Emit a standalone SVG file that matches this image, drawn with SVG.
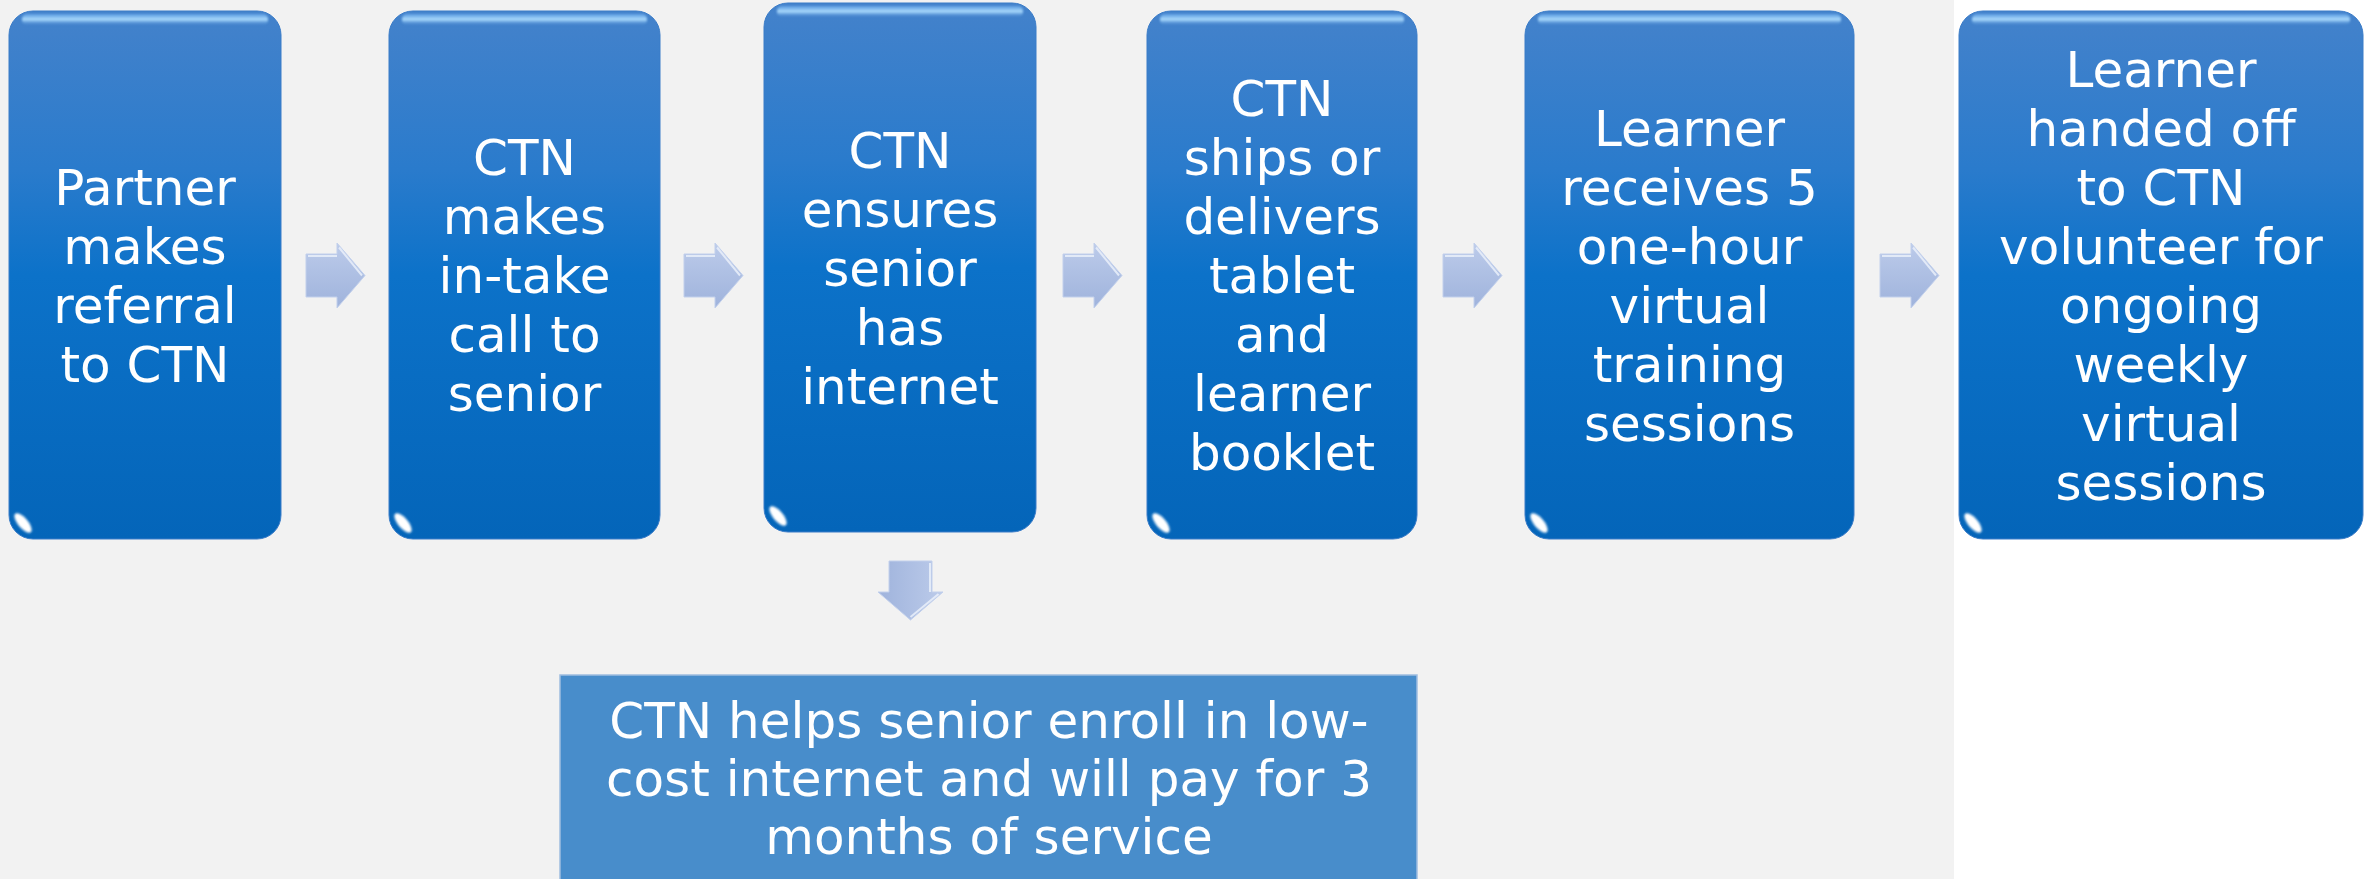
<svg xmlns="http://www.w3.org/2000/svg" xmlns:xlink="http://www.w3.org/1999/xlink" width="2367" height="879" viewBox="0 0 2367 879">
  <defs>
    <style>
      .label { font-family: "DejaVu Sans", "Noto Sans", sans-serif; font-size: 50px; fill: #ffffff; text-anchor: middle; }
      .body { fill: url(#bodyFill); stroke: #3a7cc8; stroke-width: 1; }
      .rim { fill: url(#rimFill); filter: url(#soft); }
      .edge-r { stroke: #c6f0ff; stroke-width: 2.5; fill: none; filter: url(#soft); }
      .edge-l { stroke: #5aa6ee; stroke-opacity: 0.55; stroke-width: 6; fill: none; filter: url(#soft2); }
      .spot { fill: #ffffff; filter: url(#soft3); }
      .arrow { fill: url(#arrowFill); stroke: #c2d0ec; stroke-width: 1; }
      .arrow-hi { fill: none; stroke: #eef3fb; stroke-opacity: 0.8; stroke-width: 2; }
    </style>
    <linearGradient id="bodyFill" x1="0" y1="0" x2="0" y2="1">
      <stop offset="0" stop-color="#4482cb"/>
      <stop offset="0.3" stop-color="#2a7bcc"/>
      <stop offset="0.5" stop-color="#0c72c9"/>
      <stop offset="1" stop-color="#0465b9"/>
    </linearGradient>
    <linearGradient id="rimFill" x1="0" y1="0" x2="0" y2="1">
      <stop offset="0" stop-color="#6fb2f2" stop-opacity="0.6"/>
      <stop offset="0.5" stop-color="#b2e0ff" stop-opacity="0.95"/>
      <stop offset="1" stop-color="#5d9ee0" stop-opacity="0"/>
    </linearGradient>
    <linearGradient id="arrowFill" x1="0" y1="0" x2="0" y2="1">
      <stop offset="0" stop-color="#bccbea"/>
      <stop offset="1" stop-color="#9fb3dc"/>
    </linearGradient>
    <filter id="soft" x="-10%" y="-10%" width="120%" height="120%">
      <feGaussianBlur stdDeviation="0.8"/>
    </filter>
    <filter id="soft2" x="-50%" y="-50%" width="200%" height="200%">
      <feGaussianBlur stdDeviation="2"/>
    </filter>
    <filter id="soft3" x="-50%" y="-50%" width="200%" height="200%">
      <feGaussianBlur stdDeviation="1.3"/>
    </filter>
    <!-- block arrow pointing right, origin at the tail centre -->
    <path id="blockArrow" d="M0,-21.5 H31 V-32.5 L59,0 L31,32.5 V21.5 H0 Z"/>
  </defs>

  <!-- canvas -->
  <rect x="0" y="0" width="2367" height="879" fill="#ffffff"/>
  <rect x="0" y="0" width="1954" height="879" fill="#f2f2f2"/>

  <!-- flow connectors -->
  <g id="connectors">
    <g transform="translate(306,275.5)">
      <use href="#blockArrow" class="arrow"/>
      <path class="arrow-hi" d="M2,-19.5 H31 M33,-28 L56,0"/>
    </g>
    <g transform="translate(684,275.5)">
      <use href="#blockArrow" class="arrow"/>
      <path class="arrow-hi" d="M2,-19.5 H31 M33,-28 L56,0"/>
    </g>
    <g transform="translate(1063,275.5)">
      <use href="#blockArrow" class="arrow"/>
      <path class="arrow-hi" d="M2,-19.5 H31 M33,-28 L56,0"/>
    </g>
    <g transform="translate(1443,275.5)">
      <use href="#blockArrow" class="arrow"/>
      <path class="arrow-hi" d="M2,-19.5 H31 M33,-28 L56,0"/>
    </g>
    <g transform="translate(1880,275.5)">
      <use href="#blockArrow" class="arrow"/>
      <path class="arrow-hi" d="M2,-19.5 H31 M33,-28 L56,0"/>
    </g>
    <!-- branch down to the internet-help note -->
    <g transform="translate(910.5,561) rotate(90)">
      <use href="#blockArrow" class="arrow"/>
      <path class="arrow-hi" d="M2,-19.5 H31 M33,-28 L56,0"/>
    </g>
  </g>

  <!-- step 1 -->
  <g id="step1">
    <rect class="body" x="9" y="11" width="272" height="528" rx="24"/>
    <rect class="rim" x="22" y="14" width="246" height="11" rx="5"/>
    <path class="edge-l" d="M15,40 V510"/>
    <path class="edge-r" d="M278,34 V516"/>
    <ellipse class="spot" cx="23" cy="523" rx="12" ry="5" transform="rotate(50 23 523)"/>
    <text class="label"><tspan x="145" y="205">Partner</tspan><tspan x="145" y="264">makes</tspan><tspan x="145" y="323">referral</tspan><tspan x="145" y="382">to CTN</tspan></text>
  </g>

  <!-- step 2 -->
  <g id="step2">
    <rect class="body" x="389" y="11" width="271" height="528" rx="24"/>
    <rect class="rim" x="402" y="14" width="245" height="11" rx="5"/>
    <path class="edge-l" d="M395,40 V510"/>
    <path class="edge-r" d="M657,34 V516"/>
    <ellipse class="spot" cx="403" cy="523" rx="12" ry="5" transform="rotate(50 403 523)"/>
    <text class="label"><tspan x="524.5" y="175">CTN</tspan><tspan x="524.5" y="234">makes</tspan><tspan x="524.5" y="293">in-take</tspan><tspan x="524.5" y="352">call to</tspan><tspan x="524.5" y="411">senior</tspan></text>
  </g>

  <!-- step 3 -->
  <g id="step3">
    <rect class="body" x="764" y="3" width="272" height="529" rx="24"/>
    <rect class="rim" x="777" y="6" width="246" height="11" rx="5"/>
    <path class="edge-l" d="M770,32 V503"/>
    <path class="edge-r" d="M1033,26 V509"/>
    <ellipse class="spot" cx="778" cy="516" rx="12" ry="5" transform="rotate(50 778 516)"/>
    <text class="label"><tspan x="900" y="168">CTN</tspan><tspan x="900" y="227">ensures</tspan><tspan x="900" y="286">senior</tspan><tspan x="900" y="345">has</tspan><tspan x="900" y="404">internet</tspan></text>
  </g>

  <!-- step 4 -->
  <g id="step4">
    <rect class="body" x="1147" y="11" width="270" height="528" rx="24"/>
    <rect class="rim" x="1160" y="14" width="244" height="11" rx="5"/>
    <path class="edge-l" d="M1153,40 V510"/>
    <path class="edge-r" d="M1414,34 V516"/>
    <ellipse class="spot" cx="1161" cy="523" rx="12" ry="5" transform="rotate(50 1161 523)"/>
    <text class="label"><tspan x="1282" y="116">CTN</tspan><tspan x="1282" y="175">ships or</tspan><tspan x="1282" y="234">delivers</tspan><tspan x="1282" y="293">tablet</tspan><tspan x="1282" y="352">and</tspan><tspan x="1282" y="411">learner</tspan><tspan x="1282" y="470">booklet</tspan></text>
  </g>

  <!-- step 5 -->
  <g id="step5">
    <rect class="body" x="1525" y="11" width="329" height="528" rx="24"/>
    <rect class="rim" x="1538" y="14" width="303" height="11" rx="5"/>
    <path class="edge-l" d="M1531,40 V510"/>
    <path class="edge-r" d="M1851,34 V516"/>
    <ellipse class="spot" cx="1539" cy="523" rx="12" ry="5" transform="rotate(50 1539 523)"/>
    <text class="label"><tspan x="1689.5" y="146">Learner</tspan><tspan x="1689.5" y="205">receives 5</tspan><tspan x="1689.5" y="264">one-hour</tspan><tspan x="1689.5" y="323">virtual</tspan><tspan x="1689.5" y="382">training</tspan><tspan x="1689.5" y="441">sessions</tspan></text>
  </g>

  <!-- step 6 -->
  <g id="step6">
    <rect class="body" x="1959" y="11" width="404" height="528" rx="24"/>
    <rect class="rim" x="1972" y="14" width="378" height="11" rx="5"/>
    <path class="edge-l" d="M1965,40 V510"/>
    <path class="edge-r" d="M2360,34 V516"/>
    <ellipse class="spot" cx="1973" cy="523" rx="12" ry="5" transform="rotate(50 1973 523)"/>
    <text class="label"><tspan x="2161" y="87">Learner</tspan><tspan x="2161" y="146">handed off</tspan><tspan x="2161" y="205">to CTN</tspan><tspan x="2161" y="264">volunteer for</tspan><tspan x="2161" y="323">ongoing</tspan><tspan x="2161" y="382">weekly</tspan><tspan x="2161" y="441">virtual</tspan><tspan x="2161" y="500">sessions</tspan></text>
  </g>

  <!-- side note under step 3 -->
  <g id="internetHelp">
    <rect x="560" y="675" width="857" height="220" fill="#488dcb" stroke="#9fbde0" stroke-width="1.5"/>
    <text class="label"><tspan x="989" y="738">CTN helps senior enroll in low-</tspan><tspan x="989" y="796">cost internet and will pay for 3</tspan><tspan x="989" y="854">months of service</tspan></text>
  </g>
</svg>
